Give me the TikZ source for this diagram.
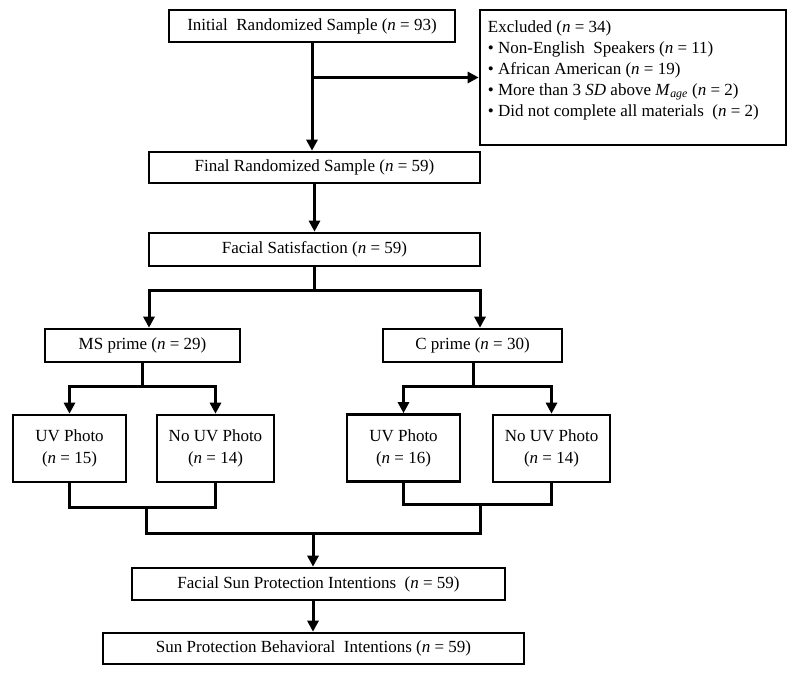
\documentclass[tikz,border=0pt]{standalone}
\usepackage{fontspec}
\setmainfont{Liberation Serif}
\usetikzlibrary{arrows.meta}
\begin{document}
\begin{tikzpicture}[x=1pt,y=1pt,
  box/.style={draw=black, line width=2.6pt, rectangle, inner sep=0pt, font=\fontsize{17}{21}\selectfont},
  twoline/.style={box, align=center, font=\fontsize{17}{22}\selectfont},
  conn/.style={line width=3pt, draw=black},
  arr/.style={conn, -{Triangle[width=11pt,length=11pt]}}
]
\fill[white] (0,0) rectangle (800,-674);
\useasboundingbox (0,0) rectangle (800,-674);

% boxes
\node[box, minimum width=286pt, minimum height=32pt] (init) at (312,-26) {Initial\ \ Randomized Sample (\textit{n} = 93)};
\node[box, minimum width=306pt, minimum height=135pt] (excl) at (633,-77.5) {};
\node[anchor=north west, align=left, inner sep=0pt, font=\fontsize{17}{21}\selectfont] (excltxt)
  at ([xshift=9pt,yshift=-11.5pt]excl.north west)
  {Excluded (\textit{n} = 34)\\
   \textbullet\ Non-English\ \ Speakers (\textit{n} = 11)\\
   \textbullet\ African American (\textit{n} = 19)\\
   \textbullet\ More than 3 \textit{SD} above \textit{M}\textsubscript{\textit{age}} (\textit{n} = 2)\\
   \textbullet\ Did not complete all materials\ \ (\textit{n} = 2)};
\node[box, minimum width=331pt, minimum height=31pt] (final) at (314.5,-167.5) {Final Randomized Sample (\textit{n} = 59)};
\node[box, minimum width=331pt, minimum height=33pt] (fsat) at (314.5,-249.5) {Facial Satisfaction (\textit{n} = 59)};
\node[box, minimum width=195pt, minimum height=33pt] (ms) at (142.5,-345.5) {MS prime (\textit{n} = 29)};
\node[box, minimum width=179pt, minimum height=33pt] (cp) at (472.5,-345.5) {C prime (\textit{n} = 30)};
\node[twoline, minimum width=113pt, minimum height=67pt] (uv1) at (69.5,-448.5) {UV Photo\\(\textit{n} = 15)};
\node[twoline, minimum width=117pt, minimum height=67pt] (nuv1) at (215.5,-448.5) {No UV Photo\\(\textit{n} = 14)};
\node[twoline, minimum width=113pt, minimum height=67pt] (uv2) at (403.5,-448) {UV Photo\\(\textit{n} = 16)};
\node[twoline, minimum width=117pt, minimum height=67pt] (nuv2) at (551.5,-448.5) {No UV Photo\\(\textit{n} = 14)};
\node[box, minimum width=373pt, minimum height=32pt] (fsp) at (318.5,-584) {Facial Sun Protection Intentions\ \ (\textit{n} = 59)};
\node[box, minimum width=421pt, minimum height=31pt] (spb) at (313.5,-648.5) {Sun Protection Behavioral\ \ Intentions (\textit{n} = 59)};

% junction points
\coordinate (j1) at (314.5,-290);
\coordinate (j2) at (142.5,-386);
\coordinate (j3) at (473.5,-386);
\coordinate (m1) at (146,-507);
\coordinate (m2) at (480,-504);
\coordinate (b) at (313,-533);

% connectors
\draw[arr] (init.south) -- (init.south |- final.north);
\draw[arr] (init.south |- excl.west) -- (excl.west);
\draw[arr] (final.south) -- (final.south |- fsat.north);
\draw[conn] (fsat.south) -- (j1);
\draw[arr] (j1) -| ([xshift=6.5pt]ms.north);
\draw[arr] (j1) -| ([xshift=7.5pt]cp.north);
\draw[conn] (ms.south) -- (j2);
\draw[arr] (j2) -| (uv1.north);
\draw[arr] (j2) -| (nuv1.north);
\draw[conn] (cp.south) ++(1pt,0) -- (j3);
\draw[arr] (j3) -| (uv2.north);
\draw[arr] (j3) -| (nuv2.north);
\draw[conn] (uv1.south) |- (m1) -| (nuv1.south);
\draw[conn] (uv2.south) |- (m2) -| (nuv2.south);
\draw[conn] (m1) |- (b) -| (m2);
\draw[arr] (b) -- (b |- fsp.north);
\draw[arr] (b |- fsp.south) -- (b |- spb.north);
\end{tikzpicture}
\end{document}
